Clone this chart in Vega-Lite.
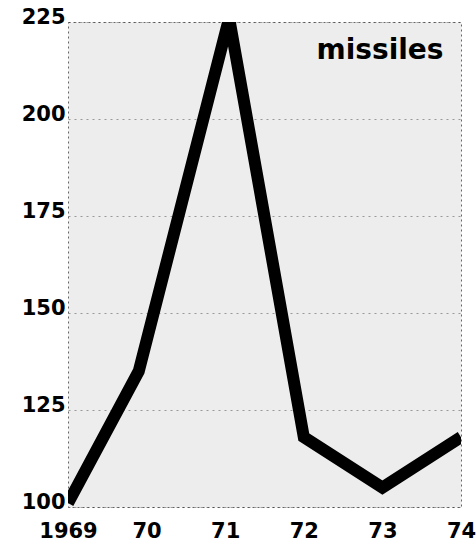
{
  "$schema": "https://vega.github.io/schema/vega-lite/v6.json",
  "autosize": "none",
  "width": 393,
  "height": 485,
  "padding": {"left": 68, "top": 22, "right": 15, "bottom": 36},
  "background": "#ffffff",
  "config": {
    "view": {"fill": "#ededed", "stroke": "#666666", "strokeDash": [2, 3], "strokeWidth": 1},
    "axis": {"labelFont": "DejaVu Sans", "labelFontWeight": "bold", "labelFontSize": 21, "labelColor": "#000000", "ticks": false, "domain": false}
  },
  "datasets": {
    "series": [
      {"year": 1969.0, "missiles": 101},
      {"year": 1969.9, "missiles": 135},
      {"year": 1971.05, "missiles": 226},
      {"year": 1972.0, "missiles": 118},
      {"year": 1973.0, "missiles": 105},
      {"year": 1974.0, "missiles": 118}
    ],
    "label": [
      {"year": 1972.97, "missiles": 217.5, "text": "missiles"}
    ]
  },
  "layer": [
    {
      "data": {"name": "series"},
      "mark": {"type": "line", "color": "#000000", "strokeWidth": 12, "strokeJoin": "miter", "strokeCap": "butt", "clip": true},
      "encoding": {
        "x": {"field": "year", "type": "quantitative", "scale": {"domain": [1969, 1974], "nice": false, "zero": false},
          "axis": {"title": null, "values": [1969, 1970, 1971, 1972, 1973, 1974], "labelExpr": "datum.value == 1969 ? '1969' : substring(toString(datum.value), 2, 4)", "grid": false, "labelPadding": 13, "labelFlush": false}},
        "y": {"field": "missiles", "type": "quantitative", "scale": {"domain": [100, 225], "nice": false, "zero": false},
          "axis": {"title": null, "values": [100, 125, 150, 175, 200, 225], "labelPadding": 3, "labelOffset": -5, "grid": true, "gridColor": "#333333", "gridDash": [2, 4], "gridOpacity": 0.45, "gridWidth": 1, "labelFlush": false}}
      }
    },
    {
      "data": {"name": "label"},
      "mark": {"type": "text", "font": "DejaVu Sans", "fontWeight": "bold", "fontSize": 28, "color": "#000000", "align": "center", "baseline": "middle"},
      "encoding": {
        "x": {"field": "year", "type": "quantitative"},
        "y": {"field": "missiles", "type": "quantitative"},
        "text": {"field": "text"}
      }
    }
  ]
}
